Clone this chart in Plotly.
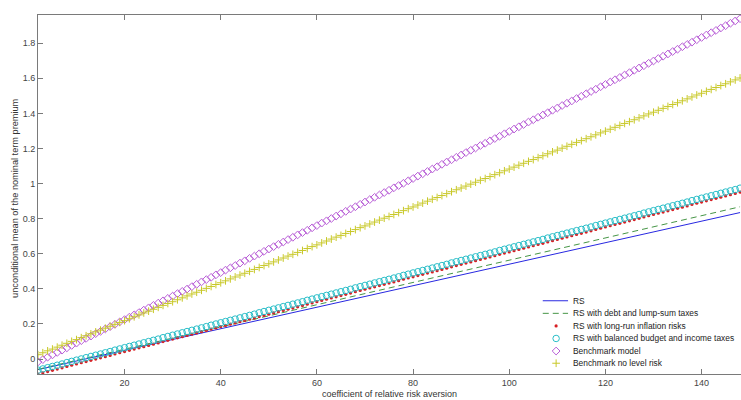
import plotly.graph_objects as go

# risk aversion grid
gamma = list(range(2, 149))

rs_x = [2, 20, 40, 60, 80, 100, 120, 140, 148]
rs = [-0.060, 0.050, 0.173, 0.296, 0.418, 0.541, 0.663, 0.786, 0.835]
rs_debt = [-0.058, 0.056, 0.183, 0.310, 0.437, 0.563, 0.690, 0.817, 0.868]

rs_infl = [
    -0.085, -0.078, -0.071, -0.064, -0.057, -0.050, -0.042, -0.035, -0.028, -0.021,
    -0.014, -0.007, 0.000, 0.007, 0.014, 0.021, 0.029, 0.036, 0.043, 0.050,
    0.057, 0.064, 0.071, 0.078, 0.085, 0.092, 0.100, 0.107, 0.114, 0.121,
    0.128, 0.135, 0.142, 0.149, 0.156, 0.163, 0.171, 0.178, 0.185, 0.192,
    0.199, 0.206, 0.213, 0.220, 0.227, 0.234, 0.242, 0.249, 0.256, 0.263,
    0.270, 0.277, 0.284, 0.291, 0.298, 0.305, 0.313, 0.320, 0.327, 0.334,
    0.341, 0.348, 0.355, 0.362, 0.369, 0.376, 0.384, 0.391, 0.398, 0.405,
    0.412, 0.419, 0.426, 0.433, 0.440, 0.447, 0.455, 0.462, 0.469, 0.476,
    0.483, 0.490, 0.497, 0.504, 0.511, 0.518, 0.526, 0.533, 0.540, 0.547,
    0.554, 0.561, 0.568, 0.575, 0.582, 0.589, 0.597, 0.604, 0.611, 0.618,
    0.625, 0.632, 0.639, 0.646, 0.653, 0.660, 0.668, 0.675, 0.682, 0.689,
    0.696, 0.703, 0.710, 0.717, 0.724, 0.731, 0.739, 0.746, 0.753, 0.760,
    0.767, 0.774, 0.781, 0.788, 0.795, 0.802, 0.810, 0.817, 0.824, 0.831,
    0.838, 0.845, 0.852, 0.859, 0.866, 0.873, 0.881, 0.888, 0.895, 0.902,
    0.909, 0.916, 0.923, 0.930, 0.937, 0.944, 0.952,
]

rs_budget = [
    -0.063, -0.056, -0.049, -0.042, -0.035, -0.028, -0.020, -0.013, -0.006, 0.001,
    0.008, 0.015, 0.022, 0.029, 0.036, 0.043, 0.051, 0.058, 0.065, 0.072,
    0.079, 0.086, 0.093, 0.100, 0.107, 0.114, 0.122, 0.129, 0.136, 0.143,
    0.150, 0.157, 0.164, 0.171, 0.178, 0.185, 0.193, 0.200, 0.207, 0.214,
    0.221, 0.228, 0.235, 0.242, 0.249, 0.256, 0.264, 0.271, 0.278, 0.285,
    0.292, 0.299, 0.306, 0.313, 0.320, 0.327, 0.335, 0.342, 0.349, 0.356,
    0.363, 0.370, 0.377, 0.384, 0.391, 0.398, 0.406, 0.413, 0.420, 0.427,
    0.434, 0.441, 0.448, 0.455, 0.462, 0.469, 0.477, 0.484, 0.491, 0.498,
    0.505, 0.512, 0.519, 0.526, 0.533, 0.540, 0.548, 0.555, 0.562, 0.569,
    0.576, 0.583, 0.590, 0.597, 0.604, 0.611, 0.619, 0.626, 0.633, 0.640,
    0.647, 0.654, 0.661, 0.668, 0.675, 0.682, 0.690, 0.697, 0.704, 0.711,
    0.718, 0.725, 0.732, 0.739, 0.746, 0.753, 0.761, 0.768, 0.775, 0.782,
    0.789, 0.796, 0.803, 0.810, 0.817, 0.824, 0.832, 0.839, 0.846, 0.853,
    0.860, 0.867, 0.874, 0.881, 0.888, 0.895, 0.903, 0.910, 0.917, 0.924,
    0.931, 0.938, 0.945, 0.952, 0.959, 0.966, 0.974,
]

benchmark = [
    -0.016, -0.003, 0.011, 0.024, 0.038, 0.051, 0.064, 0.078, 0.091, 0.105,
    0.118, 0.131, 0.145, 0.158, 0.172, 0.185, 0.198, 0.212, 0.225, 0.239,
    0.252, 0.265, 0.279, 0.292, 0.306, 0.319, 0.332, 0.346, 0.359, 0.373,
    0.386, 0.399, 0.413, 0.426, 0.440, 0.453, 0.466, 0.480, 0.493, 0.507,
    0.520, 0.533, 0.547, 0.560, 0.574, 0.587, 0.600, 0.614, 0.627, 0.641,
    0.654, 0.667, 0.681, 0.694, 0.708, 0.721, 0.734, 0.748, 0.761, 0.775,
    0.788, 0.801, 0.815, 0.828, 0.842, 0.855, 0.868, 0.882, 0.895, 0.909,
    0.922, 0.935, 0.949, 0.962, 0.976, 0.989, 1.002, 1.016, 1.029, 1.043,
    1.056, 1.069, 1.083, 1.096, 1.110, 1.123, 1.136, 1.150, 1.163, 1.177,
    1.190, 1.203, 1.217, 1.230, 1.244, 1.257, 1.270, 1.284, 1.297, 1.311,
    1.324, 1.337, 1.351, 1.364, 1.378, 1.391, 1.404, 1.418, 1.431, 1.445,
    1.458, 1.471, 1.485, 1.498, 1.512, 1.525, 1.538, 1.552, 1.565, 1.579,
    1.592, 1.605, 1.619, 1.632, 1.646, 1.659, 1.672, 1.686, 1.699, 1.713,
    1.726, 1.739, 1.753, 1.766, 1.780, 1.793, 1.806, 1.820, 1.833, 1.847,
    1.860, 1.873, 1.887, 1.900, 1.914, 1.927, 1.940,
]

bench_nolevel = [
    0.025, 0.036, 0.047, 0.057, 0.068, 0.079, 0.090, 0.101, 0.111, 0.122,
    0.133, 0.144, 0.155, 0.165, 0.176, 0.187, 0.198, 0.209, 0.219, 0.230,
    0.241, 0.252, 0.263, 0.273, 0.284, 0.295, 0.306, 0.317, 0.327, 0.338,
    0.349, 0.360, 0.371, 0.381, 0.392, 0.403, 0.414, 0.425, 0.435, 0.446,
    0.457, 0.468, 0.479, 0.489, 0.500, 0.511, 0.522, 0.533, 0.543, 0.554,
    0.565, 0.576, 0.587, 0.597, 0.608, 0.619, 0.630, 0.641, 0.651, 0.662,
    0.673, 0.684, 0.695, 0.705, 0.716, 0.727, 0.738, 0.749, 0.759, 0.770,
    0.781, 0.792, 0.803, 0.813, 0.824, 0.835, 0.846, 0.857, 0.867, 0.878,
    0.889, 0.900, 0.911, 0.921, 0.932, 0.943, 0.954, 0.965, 0.975, 0.986,
    0.997, 1.008, 1.019, 1.029, 1.040, 1.051, 1.062, 1.073, 1.083, 1.094,
    1.105, 1.116, 1.127, 1.137, 1.148, 1.159, 1.170, 1.181, 1.191, 1.202,
    1.213, 1.224, 1.235, 1.245, 1.256, 1.267, 1.278, 1.289, 1.299, 1.310,
    1.321, 1.332, 1.343, 1.353, 1.364, 1.375, 1.386, 1.397, 1.407, 1.418,
    1.429, 1.440, 1.451, 1.461, 1.472, 1.483, 1.494, 1.505, 1.515, 1.526,
    1.537, 1.548, 1.559, 1.569, 1.580, 1.591, 1.602,
]

legend_labels = [
    "RS",
    "RS with debt and lump-sum taxes",
    "RS with long-run inflation risks",
    "RS with balanced budget and income taxes",
    "Benchmark model",
    "Benchmark no level risk",
]

x_ticks = [20, 40, 60, 80, 100, 120, 140]
y_ticks = [0, 0.2, 0.4, 0.6, 0.8, 1.0, 1.2, 1.4, 1.6, 1.8]

C_BLUE = "rgb(40,40,225)"
C_GREEN = "rgb(70,150,70)"
C_RED = "rgb(215,30,35)"
C_CYAN = "rgb(40,190,200)"
C_PURPLE = "rgb(185,95,215)"
C_YELLOW = "rgb(200,200,40)"

styles = [
    dict(mode="lines", line=dict(color=C_BLUE, width=1)),
    dict(mode="lines", line=dict(color=C_GREEN, width=1, dash="6px,4px")),
    dict(mode="markers", marker=dict(symbol="circle", size=3.2, color=C_RED)),
    dict(mode="markers", marker=dict(symbol="circle-open", size=6.5, color=C_CYAN, line=dict(width=1))),
    dict(mode="markers", marker=dict(symbol="diamond-open", size=6, color=C_PURPLE, line=dict(width=1))),
    dict(mode="markers", marker=dict(symbol="cross-thin-open", size=5.5, color=C_YELLOW, line=dict(width=1, color=C_YELLOW))),
]

xs = [rs_x, rs_x, gamma, gamma, gamma, gamma]
ys = [rs, rs_debt, rs_infl, rs_budget, benchmark, bench_nolevel]

fig = go.Figure()
for x, y, st, name in zip(xs, ys, styles, legend_labels):
    fig.add_trace(go.Scatter(x=x, y=y, name=name, showlegend=False, hoverinfo="skip", **st))

# hand-built compact legend (bottom right, inside the axes)
leg_rows = [0.204, 0.169, 0.134, 0.099, 0.064, 0.030]
font_txt = dict(family="Liberation Sans, Arial, sans-serif", size=8.4, color="#222")
for i, (st, name, ry) in enumerate(zip(styles, legend_labels, leg_rows)):
    if st["mode"] == "lines":
        fig.add_trace(go.Scatter(x=[0.718, 0.754], y=[ry, ry], xaxis="x2", yaxis="y2",
                                 showlegend=False, hoverinfo="skip", **st))
    else:
        fig.add_trace(go.Scatter(x=[0.737], y=[ry], xaxis="x2", yaxis="y2",
                                 showlegend=False, hoverinfo="skip", **st))
    fig.add_annotation(x=0.758, y=ry, xref="x2", yref="y2", text=name, showarrow=False,
                       xanchor="left", yanchor="middle", font=font_txt)

axis_col = "#7a7a7a"
tick_font = dict(family="Liberation Sans, Arial, sans-serif", size=9, color="#444")
fig.update_layout(
    width=741, height=400,
    margin=dict(l=38, r=0, t=15, b=26),
    paper_bgcolor="white", plot_bgcolor="white",
    showlegend=False,
    xaxis=dict(range=[2, 148.2], tickvals=x_ticks, ticks="inside", ticklen=5, tickcolor=axis_col,
               showline=True, linecolor=axis_col, linewidth=1, mirror="ticks", showgrid=False,
               zeroline=False, tickfont=tick_font),
    yaxis=dict(range=[-0.085, 1.961], tickvals=y_ticks, ticks="inside", ticklen=5, tickcolor=axis_col,
               showline=True, linecolor=axis_col, linewidth=1, showgrid=False, zeroline=False,
               tickfont=tick_font),
    xaxis2=dict(overlaying="x", range=[0, 1], visible=False),
    yaxis2=dict(overlaying="y", range=[0, 1], visible=False),
)
fig.add_annotation(x=0.5, y=-0.036, xref="paper", yref="paper", yanchor="top",
                   text="coefficient of relative risk aversion", showarrow=False,
                   font=dict(family="Liberation Sans, Arial, sans-serif", size=9, color="#333"))
fig.add_annotation(x=-0.033, y=0.49, xref="paper", yref="paper", textangle=-90,
                   xanchor="center", yanchor="middle",
                   text="unconditional mean of the nominal term premium", showarrow=False,
                   font=dict(family="Liberation Sans, Arial, sans-serif", size=9.2, color="#333"))

fig.write_html("out.html", config={"displayModeBar": False},
               post_script="document.body.style.margin='0';document.body.style.overflow='hidden';")
